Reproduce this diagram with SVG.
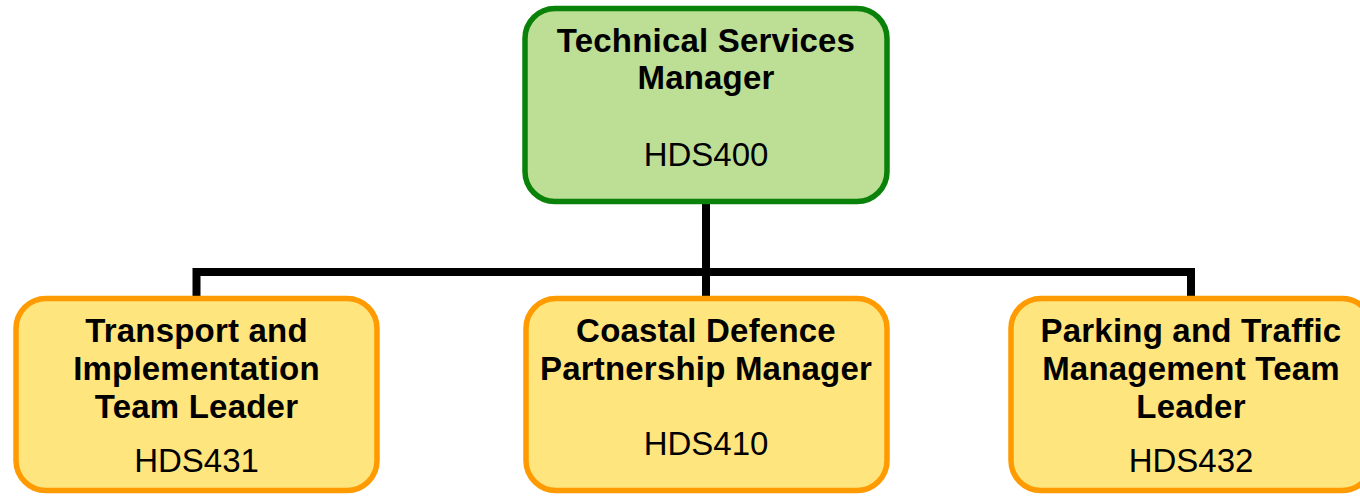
<svg xmlns="http://www.w3.org/2000/svg" width="1360" height="496" viewBox="0 0 1360 496">
<style>
.t{font-family:"Liberation Sans",Arial,sans-serif;font-size:33px;font-weight:bold;letter-spacing:0.2px;fill:#000;text-anchor:middle}
.c{font-family:"Liberation Sans",Arial,sans-serif;font-size:33px;fill:#000;text-anchor:middle}
.top{fill:#BDDE95;stroke:#0A820A;stroke-width:5.5}
.sub{fill:#FFE57D;stroke:#FF9A00;stroke-width:5.5}
.conn{fill:none;stroke:#000;stroke-width:8;stroke-linejoin:miter}
</style>
<rect width="1360" height="496" fill="#fff"/>
<g id="connectors">
<path class="conn" d="M706 203 V272"/>
<path class="conn" d="M196.5 298 V272 H1191 V298"/>
<path class="conn" d="M706 272 V298"/>
</g>
<g id="n-hds400">
<rect class="top" x="525" y="8.5" width="362" height="193" rx="30"/>
<text class="t" x="706" y="52">Technical Services</text>
<text class="t" x="706" y="89">Manager</text>
<text class="c" x="706" y="166">HDS400</text>
</g>
<g id="n-hds431">
<rect class="sub" x="16" y="298.5" width="361" height="192" rx="30"/>
<text class="t" x="196.5" y="342">Transport and</text>
<text class="t" x="196.5" y="380">Implementation</text>
<text class="t" x="196.5" y="418">Team Leader</text>
<text class="c" x="196.5" y="472">HDS431</text>
</g>
<g id="n-hds410">
<rect class="sub" x="526" y="298.5" width="361" height="192" rx="30"/>
<text class="t" x="706" y="342">Coastal Defence</text>
<text class="t" x="706" y="380">Partnership Manager</text>
<text class="c" x="706" y="455">HDS410</text>
</g>
<g id="n-hds432">
<rect class="sub" x="1011" y="298.5" width="361" height="192" rx="30"/>
<text class="t" x="1191" y="342">Parking and Traffic</text>
<text class="t" x="1191" y="380">Management Team</text>
<text class="t" x="1191" y="418">Leader</text>
<text class="c" x="1191" y="472">HDS432</text>
</g>
</svg>
